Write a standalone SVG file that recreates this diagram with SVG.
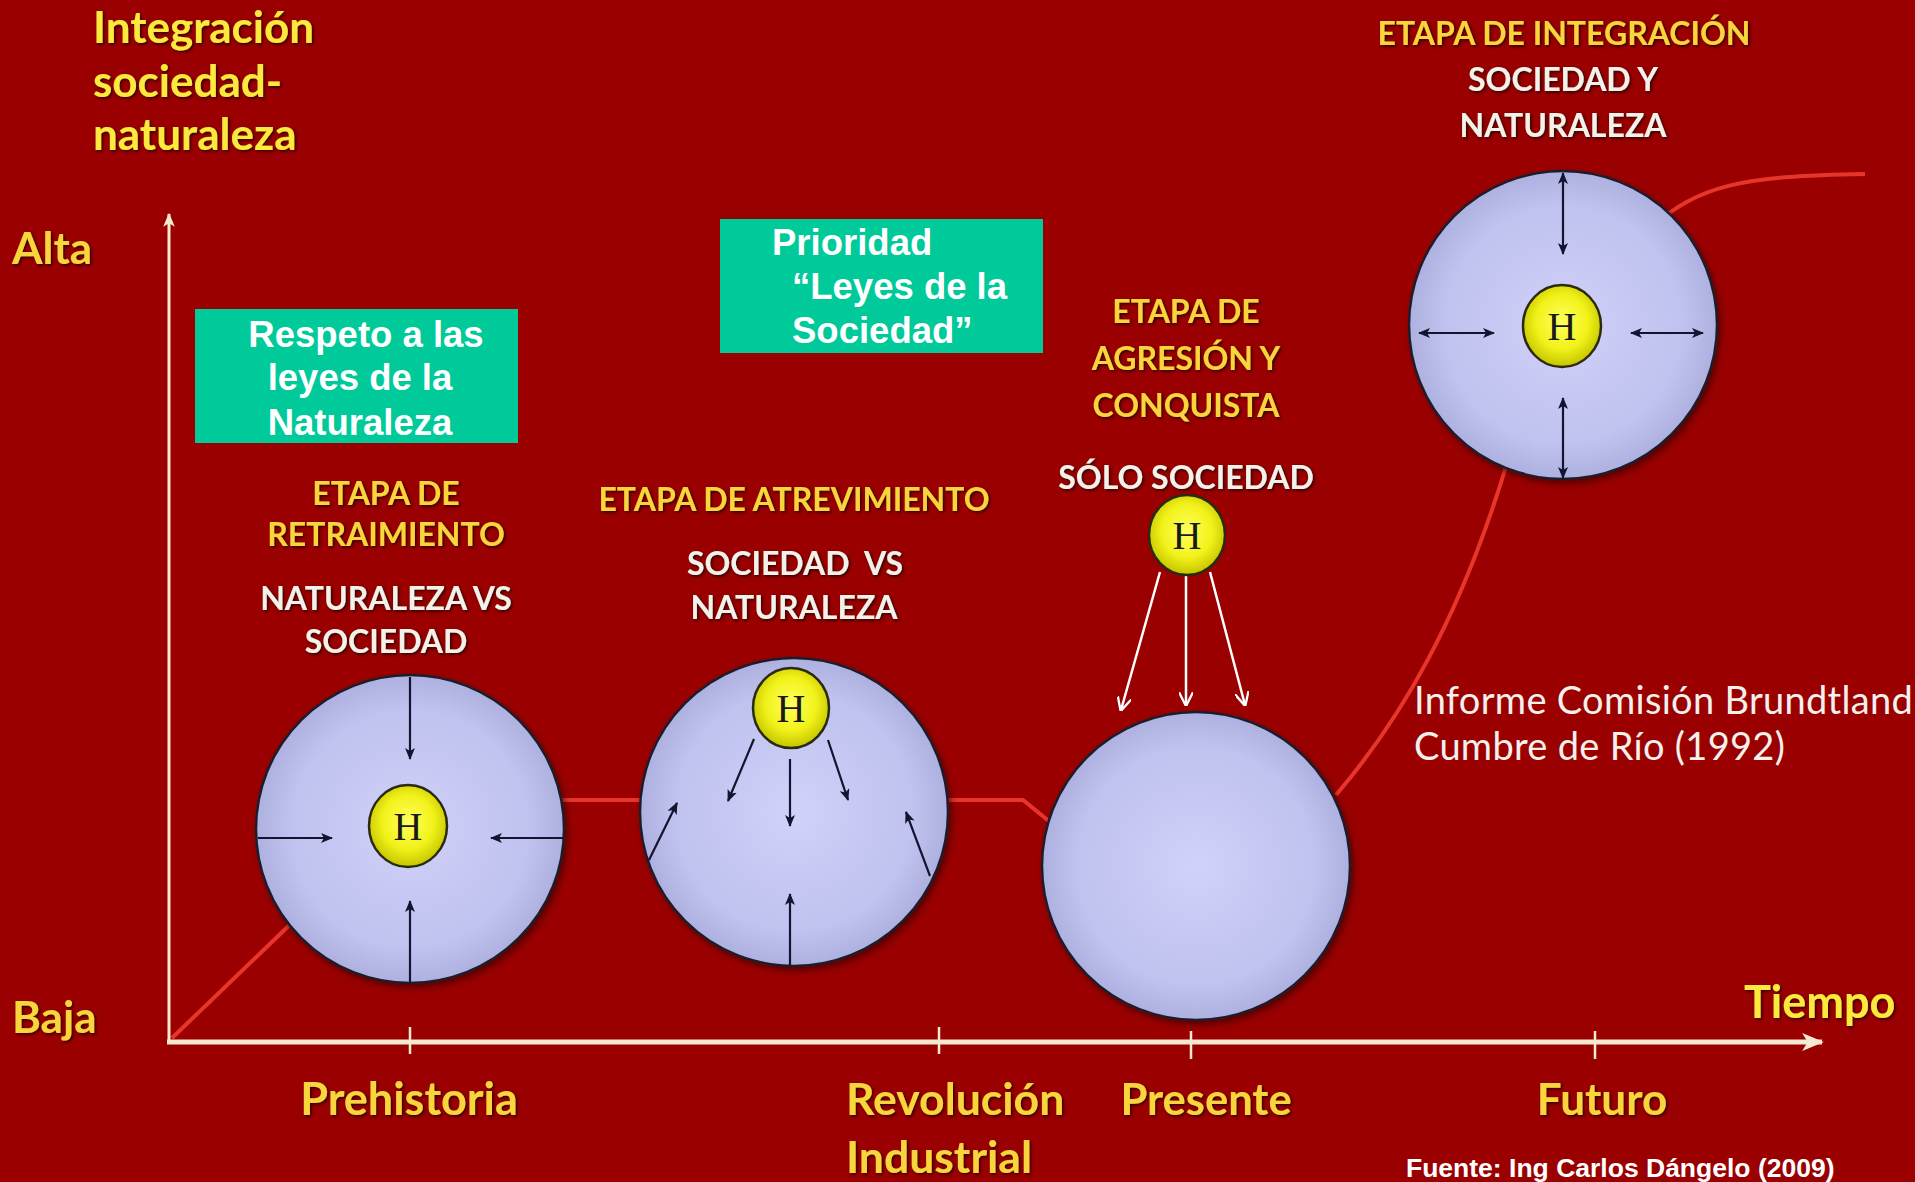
<svg xmlns="http://www.w3.org/2000/svg" width="1915" height="1182" viewBox="0 0 1915 1182">
<defs>
  <radialGradient id="gBall" cx="50%" cy="50%" r="55%">
    <stop offset="0" stop-color="#d0d2fa"/>
    <stop offset="0.7" stop-color="#c0c2ef"/>
    <stop offset="1" stop-color="#a6a8d8"/>
  </radialGradient>
  <radialGradient id="gH" cx="50%" cy="45%" r="55%">
    <stop offset="0" stop-color="#ffff60"/>
    <stop offset="0.6" stop-color="#f2f21a"/>
    <stop offset="1" stop-color="#c4c400"/>
  </radialGradient>
  <filter id="sh" x="-10%" y="-20%" width="120%" height="140%">
    <feDropShadow dx="1.5" dy="1.5" stdDeviation="1.5" flood-color="#2a0000" flood-opacity="0.9"/>
  </filter>
  <filter id="bsh" x="-10%" y="-10%" width="125%" height="125%">
    <feDropShadow dx="3" dy="4" stdDeviation="3" flood-color="#300000" flood-opacity="0.6"/>
  </filter>
  <marker id="mDark" viewBox="0 0 12 10" refX="11" refY="5" markerWidth="12" markerHeight="10" markerUnits="userSpaceOnUse" orient="auto-start-reverse">
    <path d="M0,0 L12,5 L0,10 L3,5 z" fill="#141430"/>
  </marker>
  <marker id="mWhite" viewBox="0 0 12 12" refX="11" refY="6" markerWidth="14" markerHeight="14" markerUnits="userSpaceOnUse" orient="auto">
    <path d="M0,0 L12,6 L0,12" fill="none" stroke="#ffffff" stroke-width="2"/>
  </marker>
  <marker id="mAxisY" viewBox="0 0 12 10" refX="11" refY="5" markerWidth="14" markerHeight="12" markerUnits="userSpaceOnUse" orient="auto">
    <path d="M0,0 L12,5 L0,10 L3,5 z" fill="#f5ead0"/>
  </marker>
  <marker id="mAxisX" viewBox="0 0 12 10" refX="11" refY="5" markerWidth="22" markerHeight="18" markerUnits="userSpaceOnUse" orient="auto">
    <path d="M0,0 L12,5 L0,10 L3,5 z" fill="#f5ead0"/>
  </marker>
  <style>
    .yl { font-family: Lato, "Open Sans", sans-serif; font-weight: bold; fill: #f8d43c; filter: url(#sh); }
    .tt { font-family: Lato, "Open Sans", sans-serif; font-weight: bold; fill: #fbe93c; filter: url(#sh); }
    .wh { font-family: Lato, "Open Sans", sans-serif; font-weight: bold; fill: #f2f2ea; filter: url(#sh); }
    .tl { font-family: "Liberation Sans", Arial, sans-serif; font-weight: bold; fill: #ffffff; font-size: 36.5px; }
    .box { fill: #00c99a; }
    .ball { fill: url(#gBall); stroke: #1e1e2c; stroke-width: 2.5; filter: url(#bsh); }
    .hb { fill: url(#gH); stroke: #2a2a10; stroke-width: 2.5; }
    .ht { font-family: "Liberation Serif", "Times New Roman", serif; font-size: 40px; fill: #1a1a1a; text-anchor: middle; }
    .da { stroke: #141430; stroke-width: 2.2; fill: none; marker-end: url(#mDark); }
    .dd { stroke: #141430; stroke-width: 2.2; fill: none; marker-end: url(#mDark); marker-start: url(#mDark); }
    .wa { stroke: #ffffff; stroke-width: 2.5; fill: none; marker-end: url(#mWhite); }
    .red { stroke: #e8352a; stroke-width: 4; fill: none; }
    .axis { stroke: #f5ead0; fill: none; }
    .c { text-anchor: middle; }
    .note { font-family: Lato, "Open Sans", sans-serif; font-size: 38px; fill: #f4f0ec; letter-spacing: 0.3px; }
  </style>
</defs>

<rect x="0" y="0" width="1915" height="1182" fill="#9a0000"/>

<!-- red trend curve -->
<g id="curve">
  <path class="red" d="M172,1038 L300,915"/>
  <path class="red" d="M555,800 L650,800"/>
  <path class="red" d="M940,800 L1023,800 L1050,822"/>
  <path class="red" d="M1336,795 C1400,720 1460,620 1508,460"/>
  <path class="red" d="M1650,228 C1700,185 1740,176 1865,174"/>
</g>

<!-- axes -->
<g id="axes">
  <line class="axis" x1="169" y1="1042" x2="169" y2="214" stroke-width="3" marker-end="url(#mAxisY)"/>
  <line class="axis" x1="167" y1="1042" x2="1822" y2="1042" stroke-width="5" marker-end="url(#mAxisX)"/>
  <g class="axis" stroke-width="2.5">
    <line x1="410" y1="1027" x2="410" y2="1054"/>
    <line x1="939" y1="1027" x2="939" y2="1054"/>
    <line x1="1191" y1="1031" x2="1191" y2="1059"/>
    <line x1="1595" y1="1031" x2="1595" y2="1059"/>
  </g>
</g>

<!-- axis labels -->
<g id="labels">
  <text class="tt" font-size="44" x="93" y="43">Integración</text>
  <text class="tt" font-size="44" x="93" y="97">sociedad-</text>
  <text class="tt" font-size="44" x="93" y="150">naturaleza</text>
  <text class="yl" font-size="44" x="12" y="264">Alta</text>
  <text class="yl" font-size="44" x="12" y="1033">Baja</text>
  <text class="tt" font-size="45" x="1744" y="1018">Tiempo</text>
  <text class="yl c" font-size="45" x="409" y="1115">Prehistoria</text>
  <text class="yl" font-size="44.5" x="846" y="1115">Revolución</text>
  <text class="yl" font-size="44.5" x="846" y="1173">Industrial</text>
  <text class="yl c" font-size="43.5" x="1206" y="1115">Presente</text>
  <text class="yl c" font-size="44" x="1602" y="1115">Futuro</text>
  <text font-family="'Liberation Sans', Arial, sans-serif" font-weight="bold" font-size="26.5" fill="#ffffff" x="1406" y="1177">Fuente: Ing Carlos Dángelo (2009)</text>
</g>

<!-- teal boxes -->
<g id="box-respeto">
  <rect class="box" x="195" y="309" width="323" height="134"/>
  <text class="tl c" x="366" y="347">Respeto a las</text>
  <text class="tl c" x="360" y="390">leyes de la</text>
  <text class="tl c" x="360" y="435">Naturaleza</text>
</g>
<g id="box-prioridad">
  <rect class="box" x="720" y="219" width="323" height="134"/>
  <text class="tl" x="772" y="255">Prioridad</text>
  <text class="tl" x="792" y="299">“Leyes de la</text>
  <text class="tl" x="792" y="343">Sociedad”</text>
</g>

<!-- stage 1 -->
<g id="stage-retraimiento">
  <text class="yl c" font-size="32" x="386" y="505">ETAPA DE</text>
  <text class="yl c" font-size="32" x="386" y="546">RETRAIMIENTO</text>
  <text class="wh c" font-size="32" x="386" y="610">NATURALEZA VS</text>
  <text class="wh c" font-size="32" x="386" y="653">SOCIEDAD</text>
  <circle class="ball" cx="410" cy="829" r="154"/>
  <line class="da" x1="410" y1="677" x2="410" y2="759"/>
  <line class="da" x1="258" y1="838" x2="332" y2="838"/>
  <line class="da" x1="563" y1="838" x2="491" y2="838"/>
  <line class="da" x1="410" y1="982" x2="410" y2="901"/>
  <ellipse class="hb" cx="408" cy="826" rx="39" ry="41"/>
  <text class="ht" x="408" y="840">H</text>
</g>

<!-- stage 2 -->
<g id="stage-atrevimiento">
  <text class="yl c" font-size="32" x="794" y="511">ETAPA DE ATREVIMIENTO</text>
  <text class="wh c" font-size="32" x="795" y="575" xml:space="preserve">SOCIEDAD  VS</text>
  <text class="wh c" font-size="32" x="794" y="619">NATURALEZA</text>
  <circle class="ball" cx="794" cy="812" r="154"/>
  <line class="da" x1="754" y1="739" x2="728" y2="801"/>
  <line class="da" x1="790" y1="759" x2="790" y2="826"/>
  <line class="da" x1="828" y1="740" x2="848" y2="800"/>
  <line class="da" x1="649" y1="860" x2="677" y2="803"/>
  <line class="da" x1="930" y1="876" x2="906" y2="812"/>
  <line class="da" x1="790" y1="965" x2="790" y2="894"/>
  <ellipse class="hb" cx="791" cy="708" rx="38" ry="40"/>
  <text class="ht" x="791" y="722">H</text>
</g>

<!-- stage 3 -->
<g id="stage-agresion">
  <text class="yl c" font-size="32" x="1186" y="323">ETAPA DE</text>
  <text class="yl c" font-size="32" x="1186" y="370">AGRESIÓN Y</text>
  <text class="yl c" font-size="32" x="1186" y="417">CONQUISTA</text>
  <text class="wh c" font-size="32" x="1186" y="489">SÓLO SOCIEDAD</text>
  <circle class="ball" cx="1196" cy="866" r="154"/>
  <line class="wa" x1="1160" y1="572" x2="1121" y2="710"/>
  <line class="wa" x1="1186" y1="576" x2="1186" y2="705"/>
  <line class="wa" x1="1210" y1="572" x2="1245" y2="705"/>
  <ellipse class="hb" cx="1187" cy="535" rx="38" ry="40"/>
  <text class="ht" x="1187" y="549">H</text>
</g>

<!-- stage 4 -->
<g id="stage-integracion">
  <text class="yl c" font-size="32" x="1564" y="45">ETAPA DE INTEGRACIÓN</text>
  <text class="wh c" font-size="32" x="1563" y="91">SOCIEDAD Y</text>
  <text class="wh c" font-size="32" x="1563" y="137">NATURALEZA</text>
  <circle class="ball" cx="1563" cy="325" r="154"/>
  <line class="dd" x1="1563" y1="173" x2="1563" y2="254"/>
  <line class="dd" x1="1419" y1="333" x2="1494" y2="333"/>
  <line class="dd" x1="1631" y1="333" x2="1703" y2="333"/>
  <line class="dd" x1="1563" y1="398" x2="1563" y2="478"/>
  <ellipse class="hb" cx="1562" cy="326" rx="39" ry="41"/>
  <text class="ht" x="1562" y="340">H</text>
</g>

<!-- annotation -->
<g id="note-brundtland">
  <text class="note" x="1414" y="714">Informe Comisión Brundtland</text>
  <text class="note" x="1414" y="760">Cumbre de Río (1992)</text>
</g>
</svg>
